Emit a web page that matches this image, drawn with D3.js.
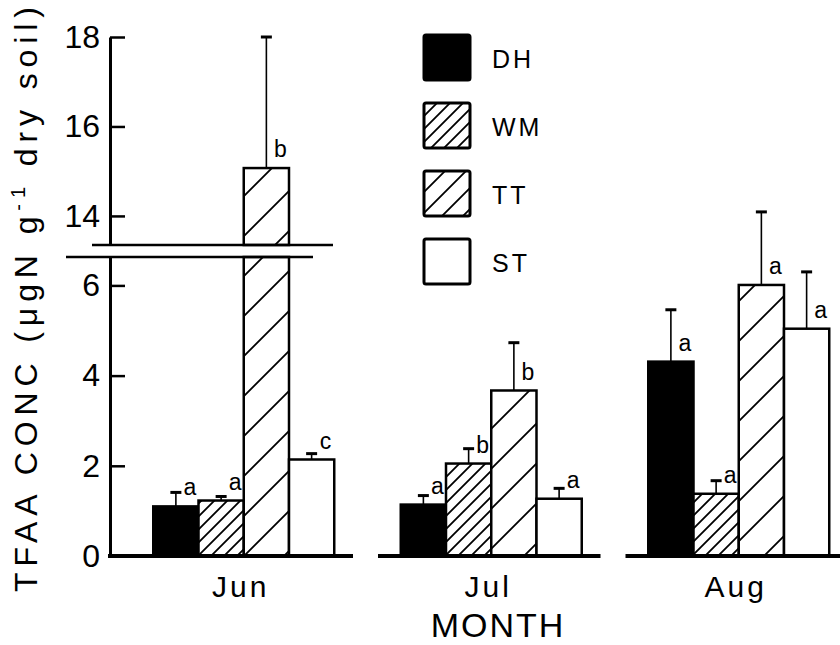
<!DOCTYPE html>
<html>
<head>
<meta charset="utf-8">
<script src="https://cdn.jsdelivr.net/npm/d3@7/dist/d3.min.js"></script>
<style>
  html, body { margin: 0; padding: 0; background: #fff; }
  svg { display: block; }
  text { font-family: 'Liberation Sans', Arial, sans-serif; fill: #000; }
</style>
</head>
<body>
<svg id="chart" width="840" height="645"></svg>
<script>
// ── Data ─────────────────────────────────────────────────
const months = ['Jun', 'Jul', 'Aug'];
const treatments = ['DH', 'WM', 'TT', 'ST'];

const meanDH = [1.10, 1.14, 4.31];
const meanWM = [1.23, 2.05, 1.38];
const meanTT = [15.07, 3.67, 6.01];
const meanST = [2.14, 1.27, 5.04];

const seDH = [0.31, 0.20, 1.15];
const seWM = [0.09, 0.33, 0.29];
const seTT = [2.93, 1.06, 1.62];
const seST = [0.13, 0.23, 1.26];

const letterDH = ['a', 'a', 'a'];
const letterWM = ['a', 'b', 'a'];
const letterTT = ['b', 'b', 'a'];
const letterST = ['c', 'a', 'a'];

const lowTicks = [0, 2, 4, 6];
const highTicks = [14, 16, 18];

// broken axis: lower and upper segments
const lowDomain = [0, 6.63];
const highDomain = [13.35, 18];

const means = { DH: meanDH, WM: meanWM, TT: meanTT, ST: meanST };
const ses = { DH: seDH, WM: seWM, TT: seTT, ST: seST };
const letters = { DH: letterDH, WM: letterWM, TT: letterTT, ST: letterST };

const rows = [];
months.forEach((m, i) => {
  treatments.forEach(t => {
    rows.push({ month: m, trt: t, mean: means[t][i], se: ses[t][i], letter: letters[t][i] });
  });
});

// ── Setup ────────────────────────────────────────────────
const svg = d3.select('#chart');
const defs = svg.append('defs');

function hatch(id, s, w) {
  const p = defs.append('pattern')
    .attr('id', id)
    .attr('patternUnits', 'userSpaceOnUse')
    .attr('width', s).attr('height', s);
  p.append('rect').attr('width', s).attr('height', s).attr('fill', '#fff');
  p.append('path')
    .attr('d', `M0,${s} L${s},0 M${-s / 2},${s / 2} L${s / 2},${-s / 2} M${s / 2},${1.5 * s} L${1.5 * s},${s / 2}`)
    .attr('stroke', '#000')
    .attr('stroke-width', w);
}
hatch('hatchDense', 13, 1.8);
hatch('hatchSparse', 40, 1.8);
hatch('hatchSparseLegend', 21, 1.8);

const FILL = { DH: '#000', WM: 'url(#hatchDense)', TT: 'url(#hatchSparse)', ST: '#fff' };
const LEGEND_FILL = { DH: '#000', WM: 'url(#hatchDense)', TT: 'url(#hatchSparseLegend)', ST: '#fff' };

const axisX = 110;

const yLow = d3.scaleLinear().domain(lowDomain).range([556, 257]);
const yHigh = d3.scaleLinear().domain(highDomain).range([245, 37]);

const x0 = d3.scaleBand().domain(months).range([120, 862.5]);
const x1 = d3.scaleBand().domain(treatments).range([0, x0.bandwidth()]).paddingOuter(0.735);

// ── Axes ─────────────────────────────────────────────────
function drawAxis(scale, ticks) {
  const g = svg.append('g')
    .attr('transform', `translate(${axisX},0)`)
    .call(d3.axisLeft(scale).tickValues(ticks).tickSizeInner(-15).tickSizeOuter(0).tickPadding(10).tickFormat(d3.format('d')));
  g.select('.domain').attr('stroke-width', 3);
  g.selectAll('.tick line').attr('stroke-width', 2.5);
  g.selectAll('.tick text')
    .attr('font-size', 32)
    .attr('font-family', "'Liberation Sans', Arial, sans-serif");
  return g;
}
drawAxis(yLow, lowTicks);
drawAxis(yHigh, highTicks);

// ── Bars ─────────────────────────────────────────────────
const barG = svg.append('g');
const loMax = lowDomain[1];

rows.forEach(d => {
  const bx = x0(d.month) + x1(d.trt);
  const bw = x1.bandwidth();
  const broken = d.mean > loMax;
  const topLow = broken ? yLow(loMax) : yLow(d.mean);

  barG.append('rect')
    .attr('x', bx).attr('y', topLow)
    .attr('width', bw).attr('height', yLow(0) - topLow)
    .attr('fill', FILL[d.trt])
    .attr('stroke', '#000').attr('stroke-width', 2.5);

  let yTop, yErr;
  if (broken) {
    yTop = yHigh(d.mean);
    yErr = yHigh(d.mean + d.se);
    barG.append('rect')
      .attr('x', bx).attr('y', yTop)
      .attr('width', bw).attr('height', yHigh(highDomain[0]) - yTop)
      .attr('fill', FILL[d.trt])
      .attr('stroke', '#000').attr('stroke-width', 2.5);
  } else {
    yTop = yLow(d.mean);
    yErr = yLow(d.mean + d.se);
  }

  const cx = bx + bw / 2;
  barG.append('line')
    .attr('x1', cx).attr('x2', cx)
    .attr('y1', yTop).attr('y2', yErr)
    .attr('stroke', '#000').attr('stroke-width', 1.6);
  barG.append('line')
    .attr('x1', cx - 5.5).attr('x2', cx + 5.5)
    .attr('y1', yErr).attr('y2', yErr)
    .attr('stroke', '#000').attr('stroke-width', 3);

  // letter sits right of the error bar, just above the bar top
  barG.append('text')
    .attr('x', cx + 14)
    .attr('y', yTop - 19)
    .attr('dy', '0.35em')
    .attr('text-anchor', 'middle')
    .attr('font-size', 23)
    .text(d.letter);
});

// baselines, one per month
months.forEach((m, i) => {
  const xa = i === 0 ? axisX - 2 : x0(m) + 10.5;
  const xb = x0(m) + x0.bandwidth() - 14.5;
  svg.append('line')
    .attr('x1', xa).attr('x2', xb)
    .attr('y1', yLow(0)).attr('y2', yLow(0))
    .attr('stroke', '#000').attr('stroke-width', 4);
});

// break marks
svg.append('line')
  .attr('x1', 92).attr('x2', 333)
  .attr('y1', yHigh(highDomain[0])).attr('y2', yHigh(highDomain[0]))
  .attr('stroke', '#000').attr('stroke-width', 2.5);
svg.append('line')
  .attr('x1', 66).attr('x2', 313)
  .attr('y1', yLow(loMax)).attr('y2', yLow(loMax))
  .attr('stroke', '#000').attr('stroke-width', 2.5);

// ── Month labels ─────────────────────────────────────────
svg.append('g').selectAll('text')
  .data(months)
  .join('text')
  .attr('x', d => x0(d) + x0.bandwidth() / 2 - 3)
  .attr('y', 597)
  .attr('text-anchor', 'middle')
  .attr('font-size', 30)
  .attr('letter-spacing', 3)
  .text(d => d);

svg.append('text')
  .attr('x', 498).attr('y', 637)
  .attr('text-anchor', 'middle')
  .attr('font-size', 34)
  .attr('letter-spacing', 2)
  .text('MONTH');

// ── Y label ──────────────────────────────────────────────
const yLab = svg.append('text')
  .attr('transform', 'translate(37,592) rotate(-90)')
  .attr('font-size', 32)
  .attr('textLength', 585)
  .attr('lengthAdjust', 'spacing');
yLab.append('tspan').text('TFAA  CONC (\u03BCgN g');
yLab.append('tspan').attr('font-size', 20).attr('dy', -12).text('-1');
yLab.append('tspan').attr('dy', 12).text(' dry soil)');

// ── Legend ───────────────────────────────────────────────
const legend = svg.append('g').attr('transform', 'translate(424,35)');
const lg = legend.selectAll('g')
  .data(treatments)
  .join('g')
  .attr('transform', (d, i) => `translate(0,${i * 68})`);
lg.append('rect')
  .attr('width', 46).attr('height', 45)
  .attr('rx', 2)
  .attr('fill', d => LEGEND_FILL[d])
  .attr('stroke', '#000').attr('stroke-width', 3);
lg.append('text')
  .attr('x', 68).attr('y', 33)
  .attr('font-size', 25)
  .attr('letter-spacing', 3)
  .text(d => d);
</script>
</body>
</html>
